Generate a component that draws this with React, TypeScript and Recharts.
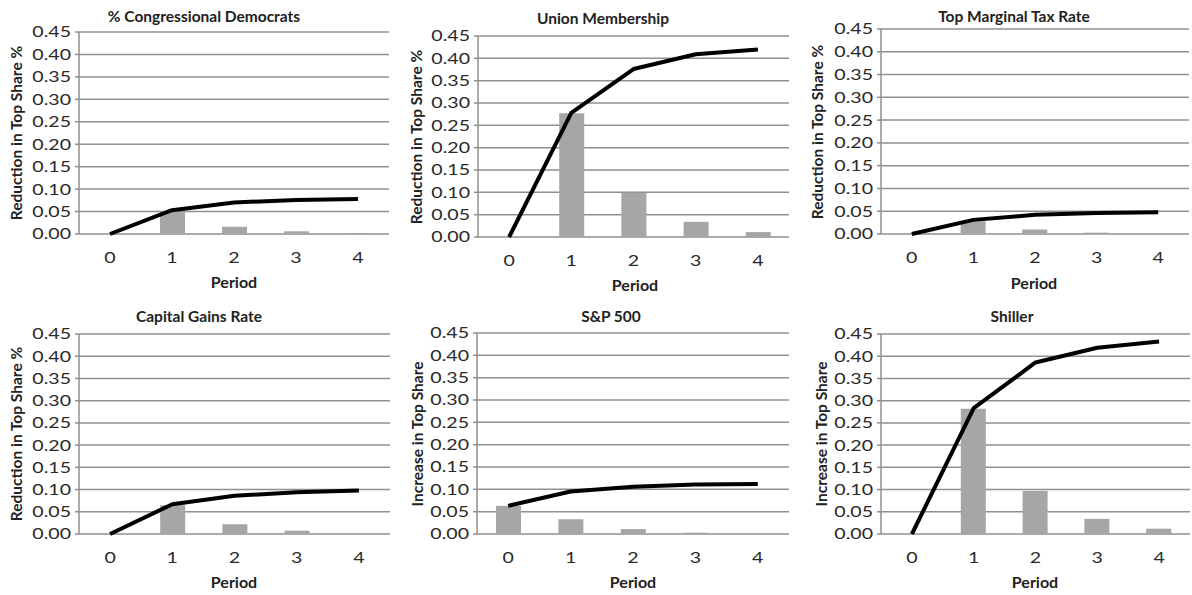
import React from "react"
import { ComposedChart, Bar, Line, XAxis, YAxis, CartesianGrid } from "recharts"

// values: cumulative (line) and per-period (bar)
const periods = [0, 1, 2, 3, 4]
const yTicks = [0, 0.05, 0.1, 0.15, 0.2, 0.25, 0.3, 0.35, 0.4, 0.45]
const edgeTicks = [-0.5, 0.5, 1.5, 2.5, 3.5, 4.5]

const congressCum = [0, 0.053, 0.07, 0.076, 0.078]
const congressMarg = [0, 0.05, 0.016, 0.006, 0.002]
const unionCum = [0, 0.278, 0.376, 0.409, 0.42]
const unionMarg = [0, 0.277, 0.099, 0.034, 0.011]
const taxCum = [0, 0.031, 0.042, 0.046, 0.048]
const taxMarg = [0, 0.028, 0.01, 0.003, 0.001]
const capGainsCum = [0, 0.067, 0.086, 0.094, 0.098]
const capGainsMarg = [0, 0.065, 0.022, 0.0075, 0.002]
const spCum = [0.063, 0.095, 0.106, 0.111, 0.112]
const spMarg = [0.063, 0.033, 0.011, 0.003, 0.001]
const shillerCum = [0, 0.283, 0.386, 0.419, 0.433]
const shillerMarg = [0, 0.282, 0.097, 0.034, 0.012]

const GRID = "#8f8f8f"
const BAR = "#a6a6a6"
const FONT = "Lato, 'Open Sans', sans-serif"

const reduction = "Reduction in Top Share %"
const increase = "Increase in Top Share"

const panels = [
  { title: "% Congressional Democrats", yLabel: reduction, cum: congressCum, marg: congressMarg,
    cx: 0, cy: 0, cw: 395, ch: 295, L: 79, R: 389, T: 32, B: 234, tx: 204, ty: 17, lx: 17, px: 234, py: 282 },
  { title: "Union Membership", yLabel: reduction, cum: unionCum, marg: unionMarg,
    cx: 395, cy: 0, cw: 395, ch: 295, L: 478, R: 789, T: 36, B: 237, tx: 603, ty: 19, lx: 417, px: 635, py: 285 },
  { title: "Top Marginal Tax Rate", yLabel: reduction, cum: taxCum, marg: taxMarg,
    cx: 790, cy: 0, cw: 402, ch: 295, L: 881, R: 1189, T: 29, B: 234, tx: 1014, ty: 17, lx: 818, px: 1034, py: 283 },
  { title: "Capital Gains Rate", yLabel: reduction, cum: capGainsCum, marg: capGainsMarg,
    cx: 0, cy: 295, cw: 395, ch: 300, L: 79, R: 390, T: 334, B: 534, tx: 199, ty: 317, lx: 17, px: 234, py: 582 },
  { title: "S&P 500", yLabel: increase, cum: spCum, marg: spMarg,
    cx: 395, cy: 295, cw: 395, ch: 300, L: 477, R: 789, T: 333, B: 534, tx: 611, ty: 317, lx: 418, px: 633, py: 582 },
  { title: "Shiller", yLabel: increase, cum: shillerCum, marg: shillerMarg,
    cx: 790, cy: 295, cw: 402, ch: 300, L: 881, R: 1190, T: 334, B: 534, tx: 1012, ty: 317, lx: 822, px: 1035, py: 582 },
]

function YTick({ x, y, payload }: any) {
  return (
    <g transform={`translate(${x},${y}) scale(1.35,1)`}>
      <text textAnchor="end" dominantBaseline="central" fontFamily={FONT} fontSize={14.5} fill="#2a2a2a">
        {Number(payload.value).toFixed(2)}
      </text>
    </g>
  )
}

function XTick({ x, y, payload }: any) {
  return (
    <g transform={`translate(${x},${y + 24}) scale(1.35,1)`}>
      <text textAnchor="middle" dominantBaseline="central" fontFamily={FONT} fontSize={14.5} fill="#2a2a2a">
        {payload.value}
      </text>
    </g>
  )
}

const textStyle: React.CSSProperties = {
  position: "absolute",
  fontFamily: FONT,
  fontWeight: 700,
  fontSize: 15.5,
  color: "#222",
  whiteSpace: "nowrap",
  lineHeight: 1,
}

function Panel({ p }: { p: (typeof panels)[number] }) {
  const data = periods.map((period, i) => ({ period, cum: p.cum[i], marg: p.marg[i] }))
  const xHeight = 30
  return (
    <>
      <div style={{ position: "absolute", left: p.cx, top: p.cy }}>
        <ComposedChart
          width={p.cw}
          height={p.ch}
          data={data}
          margin={{ top: p.T - p.cy, right: p.cx + p.cw - p.R, left: 0, bottom: p.cy + p.ch - p.B - xHeight }}
        >
          <CartesianGrid xAxisId="cat" vertical={false} stroke={GRID} strokeWidth={1.5} />
          <XAxis
            xAxisId="edge"
            dataKey="period"
            type="number"
            domain={[-0.5, 4.5]}
            allowDataOverflow
            ticks={edgeTicks}
            interval={0}
            tick={false}
            height={0}
            tickSize={5}
            stroke={GRID}
            tickLine={{ stroke: GRID, strokeWidth: 1.5 }}
            axisLine={{ stroke: GRID, strokeWidth: 1.5 }}
          />
          <XAxis
            xAxisId="cat"
            dataKey="period"
            type="category"
            height={xHeight}
            interval={0}
            tickSize={0}
            tickMargin={0}
            tickLine={false}
            axisLine={false}
            tick={<XTick />}
          />
          <YAxis
            domain={[0, 0.45]}
            ticks={yTicks}
            interval={0}
            width={p.L - p.cx}
            tickSize={4}
            tickMargin={4}
            tick={<YTick />}
            tickLine={{ stroke: GRID, strokeWidth: 1.5 }}
            axisLine={{ stroke: GRID, strokeWidth: 1.5 }}
          />
          <Bar xAxisId="cat" dataKey="marg" fill={BAR} barSize={25} isAnimationActive={false} />
          <Line
            xAxisId="cat"
            dataKey="cum"
            type="linear"
            stroke="#000"
            strokeWidth={4}
            strokeLinejoin="round"
            dot={false}
            isAnimationActive={false}
          />
        </ComposedChart>
      </div>
      <div style={{ ...textStyle, left: p.tx, top: p.ty, transform: "translate(-50%,-50%)" }}>{p.title}</div>
      <div style={{ ...textStyle, fontSize: 16, left: p.px, top: p.py, transform: "translate(-50%,-50%)" }}>Period</div>
      <div
        style={{
          ...textStyle,
          left: p.lx,
          top: (p.T + p.B) / 2,
          transform: "translate(-50%,-50%) rotate(-90deg)",
        }}
      >
        {p.yLabel}
      </div>
    </>
  )
}

export default function App() {
  return (
    <div style={{ position: "absolute", left: 0, top: 0, width: 1192, height: 595, background: "#fff", overflow: "hidden" }}>
      {panels.map((p) => (
        <Panel key={p.title} p={p} />
      ))}
    </div>
  )
}
